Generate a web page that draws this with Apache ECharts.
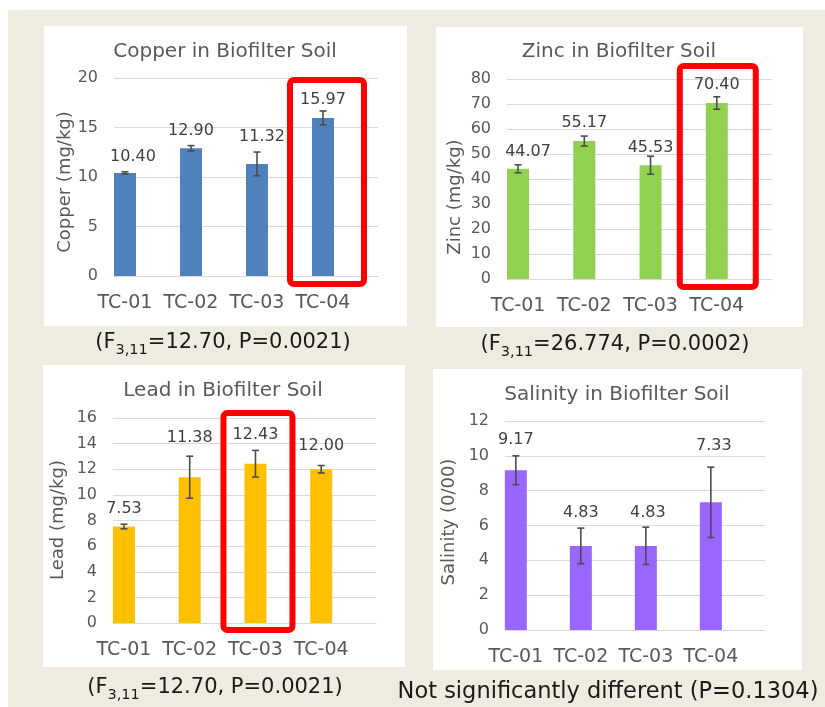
<!DOCTYPE html>
<html>
<head>
<meta charset="utf-8">
<title>Biofilter Soil</title>
<script src="https://cdn.jsdelivr.net/npm/echarts@6/dist/echarts.min.js"></script>
<style>
  html, body { margin: 0; padding: 0; background: #ffffff; }
  #chart { width: 825px; height: 707px; }
</style>
</head>
<body>
<div id="chart"></div>
<script>
// Sampling sites
const categories = ['TC-01', 'TC-02', 'TC-03', 'TC-04'];

// Mean concentrations and their error-bar half widths
const copperMean = [10.40, 12.90, 11.32, 15.97];
const copperErr = [0.12, 0.27, 1.20, 0.70];
const zincMean = [44.07, 55.17, 45.53, 70.40];
const zincErr = [1.6, 2.0, 3.6, 2.5];
const leadMean = [7.53, 11.38, 12.43, 12.00];
const leadErr = [0.18, 1.64, 1.04, 0.29];
const salinityMean = [9.17, 4.83, 4.83, 7.33];
const salinityErr = [0.83, 1.02, 1.07, 2.02];

// Value axis ranges
const copperAxis = { max: 20, step: 5 };
const zincAxis = { max: 80, step: 10 };
const leadAxis = { max: 16, step: 2 };
const salinityAxis = { max: 12, step: 2 };

// Texts
const copperTitle = 'Copper in Biofilter Soil';
const zincTitle = 'Zinc in Biofilter Soil';
const leadTitle = 'Lead in Biofilter Soil';
const salinityTitle = 'Salinity in Biofilter Soil';
const copperAxisName = 'Copper (mg/kg)';
const zincAxisName = 'Zinc (mg/kg)';
const leadAxisName = 'Lead (mg/kg)';
const salinityAxisName = 'Salinity (0/00)';
const copperCaption = ['(F', '3,11', '=12.70, P=0.0021)'];
const zincCaption = ['(F', '3,11', '=26.774, P=0.0002)'];
const leadCaption = ['(F', '3,11', '=12.70, P=0.0021)'];
const salinityCaption = ['Not significantly different (P=0.1304)'];

// Site singled out in each panel (-1: none)
const copperHighlight = 3;
const zincHighlight = 3;
const leadHighlight = 2;
const salinityHighlight = -1;

// Layout of each panel (pixels)
const FONT = '"DejaVu Sans", sans-serif';
const TEXT_GREY = '#595959';
const GRID_GREY = '#D9D9D9';

const panels = [
  {
    mean: copperMean, err: copperErr, axis: copperAxis, title: copperTitle,
    axisName: copperAxisName, caption: copperCaption, highlight: copperHighlight,
    color: '#4F81BD',
    card: [44, 26, 363, 300],
    grid: { left: 114, top: 78, width: 264, height: 198 },
    titlePos: [225, 52], namePos: [65, 182], captionPos: [223, 343], captionSize: 21,
    labelShift: [[8, 16], [0, 17], [5, 27], [0, 18]],
    box: { l: -33, r: 41, t: 2, b: 8 }
  },
  {
    mean: zincMean, err: zincErr, axis: zincAxis, title: zincTitle,
    axisName: zincAxisName, caption: zincCaption, highlight: zincHighlight,
    color: '#92D050',
    card: [436, 27, 367, 300],
    grid: { left: 507, top: 79, width: 265, height: 200 },
    titlePos: [619, 52], namePos: [455, 197], captionPos: [615, 345], captionSize: 21,
    labelShift: [[10, 17], [0, 18], [0, 17], [0, 18]],
    box: { l: -37, r: 39, t: -13, b: 8 }
  },
  {
    mean: leadMean, err: leadErr, axis: leadAxis, title: leadTitle,
    axisName: leadAxisName, caption: leadCaption, highlight: leadHighlight,
    color: '#FFC000',
    card: [43, 365, 362, 302],
    grid: { left: 113, top: 418, width: 263, height: 205 },
    titlePos: [223, 391], namePos: [58, 520], captionPos: [215, 688], captionSize: 21,
    labelShift: [[0, 18], [0, 39], [0, 29], [0, 23]],
    box: { l: -32, r: 37, t: -5, b: 7 }
  },
  {
    mean: salinityMean, err: salinityErr, axis: salinityAxis, title: salinityTitle,
    axisName: salinityAxisName, caption: salinityCaption, highlight: salinityHighlight,
    color: '#9966FF',
    card: [433, 369, 369, 301],
    grid: { left: 505, top: 421, width: 260, height: 209 },
    titlePos: [617, 395], namePos: [449, 522], captionPos: [608, 692], captionSize: 22.5,
    labelShift: [[0, 30], [0, 33], [2, 33], [3, 56]],
    box: null
  }
];

// Each site sits 1/6 of a slot from the left edge of its plot
const X_MIN = -1 / 6;
const X_MAX = categories.length - 1 / 6;

const chart = echarts.init(document.getElementById('chart'), null, { renderer: 'canvas' });

const grids = [], xAxes = [], yAxes = [], series = [], graphics = [];

graphics.push({
  type: 'rect', z: -30, silent: true,
  shape: { x: 8, y: 10, width: 825, height: 707 },
  style: { fill: '#EEEBE1' }
});

panels.forEach((p, i) => {
  grids.push(Object.assign({ containLabel: false }, p.grid));

  xAxes.push({
    type: 'value', gridIndex: i, min: X_MIN, max: X_MAX,
    axisLine: { show: true, onZero: true, lineStyle: { color: GRID_GREY, width: 1 } },
    axisTick: { show: false },
    splitLine: { show: false },
    axisLabel: {
      customValues: categories.map((c, k) => k),
      formatter: v => categories[Math.round(v)] || '',
      color: TEXT_GREY, fontFamily: FONT, fontSize: 19, margin: 18
    }
  });

  yAxes.push({
    type: 'value', gridIndex: i, min: 0, max: p.axis.max, interval: p.axis.step,
    axisLine: { show: false }, axisTick: { show: false },
    splitLine: { show: true, lineStyle: { color: GRID_GREY, width: 1 } },
    axisLabel: { color: TEXT_GREY, fontFamily: FONT, fontSize: 16, margin: 16 }
  });

  series.push({
    type: 'bar', xAxisIndex: i, yAxisIndex: i, barWidth: 22,
    itemStyle: { color: p.color },
    data: p.mean.map((v, k) => [k, v]),
    z: 2
  });

  // Error bars with the value written above each bar
  series.push({
    type: 'custom', xAxisIndex: i, yAxisIndex: i, z: 3,
    data: p.mean.map((v, k) => [k, v, p.err[k]]),
    renderItem: (params, api) => {
      const k = api.value(0), v = api.value(1), e = api.value(2);
      const top = api.coord([k, v + e]);
      const bot = api.coord([k, v - e]);
      const barTop = api.coord([k, v]);
      const cap = 3.5;
      const lineStyle = { stroke: '#4D4D4D', lineWidth: 1.6 };
      const shift = p.labelShift[params.dataIndex];
      return {
        type: 'group',
        children: [
          { type: 'line', shape: { x1: top[0], y1: top[1], x2: bot[0], y2: bot[1] }, style: lineStyle },
          { type: 'line', shape: { x1: top[0] - cap, y1: top[1], x2: top[0] + cap, y2: top[1] }, style: lineStyle },
          { type: 'line', shape: { x1: bot[0] - cap, y1: bot[1], x2: bot[0] + cap, y2: bot[1] }, style: lineStyle },
          {
            type: 'text', z2: 5,
            style: {
              text: v.toFixed(2),
              x: barTop[0] + shift[0], y: barTop[1] - shift[1],
              textAlign: 'center', textVerticalAlign: 'middle',
              align: 'center', verticalAlign: 'middle',
              fill: '#404040', font: '16px ' + FONT
            }
          }
        ]
      };
    }
  });

  graphics.push({
    type: 'rect', z: -20, silent: true,
    shape: { x: p.card[0], y: p.card[1], width: p.card[2], height: p.card[3] },
    style: { fill: '#FFFFFF' }
  });
  graphics.push({
    type: 'text', z: 10, silent: true,
    x: p.titlePos[0], y: p.titlePos[1],
    style: {
      text: p.title, textAlign: 'center', textVerticalAlign: 'middle',
      align: 'center', verticalAlign: 'middle',
      fill: TEXT_GREY, font: '20px ' + FONT
    }
  });
  graphics.push({
    type: 'text', z: 10, silent: true,
    x: p.namePos[0], y: p.namePos[1], rotation: Math.PI / 2,
    style: {
      text: p.axisName, textAlign: 'center', textVerticalAlign: 'middle',
      align: 'center', verticalAlign: 'middle',
      fill: TEXT_GREY, font: '18px ' + FONT
    }
  });

  // Caption below the panel, with an optional subscript
  let capText, rich;
  const fs = p.captionSize;
  if (p.caption.length === 3) {
    capText = '{m|' + p.caption[0] + '}{s|' + p.caption[1] + '}{m|' + p.caption[2] + '}';
  } else {
    capText = '{m|' + p.caption[0] + '}';
  }
  rich = {
    m: { fontSize: fs, fontFamily: FONT, fill: '#1A1A1A', lineHeight: 30, verticalAlign: 'middle' },
    s: { fontSize: 14.5, fontFamily: FONT, fill: '#1A1A1A', lineHeight: 16, verticalAlign: 'bottom' }
  };
  graphics.push({
    type: 'text', z: 10, silent: true,
    x: p.captionPos[0], y: p.captionPos[1],
    style: {
      text: capText, rich: rich,
      textAlign: 'center', textVerticalAlign: 'middle',
      align: 'center', verticalAlign: 'middle',
      fill: '#1A1A1A', font: fs + 'px ' + FONT
    }
  });
});

chart.setOption({
  backgroundColor: '#FFFFFF',
  animation: false,
  grid: grids,
  xAxis: xAxes,
  yAxis: yAxes,
  series: series,
  graphic: { elements: graphics }
});

// Red frames around the singled-out sites, placed through the axes
const frames = [];
panels.forEach((p, i) => {
  if (p.highlight < 0 || !p.box) return;
  const base = chart.convertToPixel({ gridIndex: i }, [p.highlight, 0]);
  const topY = chart.convertToPixel({ gridIndex: i }, [p.highlight, p.axis.max])[1];
  const x1 = base[0] + p.box.l, x2 = base[0] + p.box.r;
  const y1 = topY + p.box.t, y2 = base[1] + p.box.b;
  frames.push({
    type: 'rect', z: 50, silent: true,
    shape: { x: x1, y: y1, width: x2 - x1, height: y2 - y1, r: 4 },
    style: { fill: 'none', stroke: '#FF0000', lineWidth: 6 }
  });
});
chart.setOption({ graphic: { elements: graphics.concat(frames) } }, { replaceMerge: ['graphic'] });
</script>
</body>
</html>
